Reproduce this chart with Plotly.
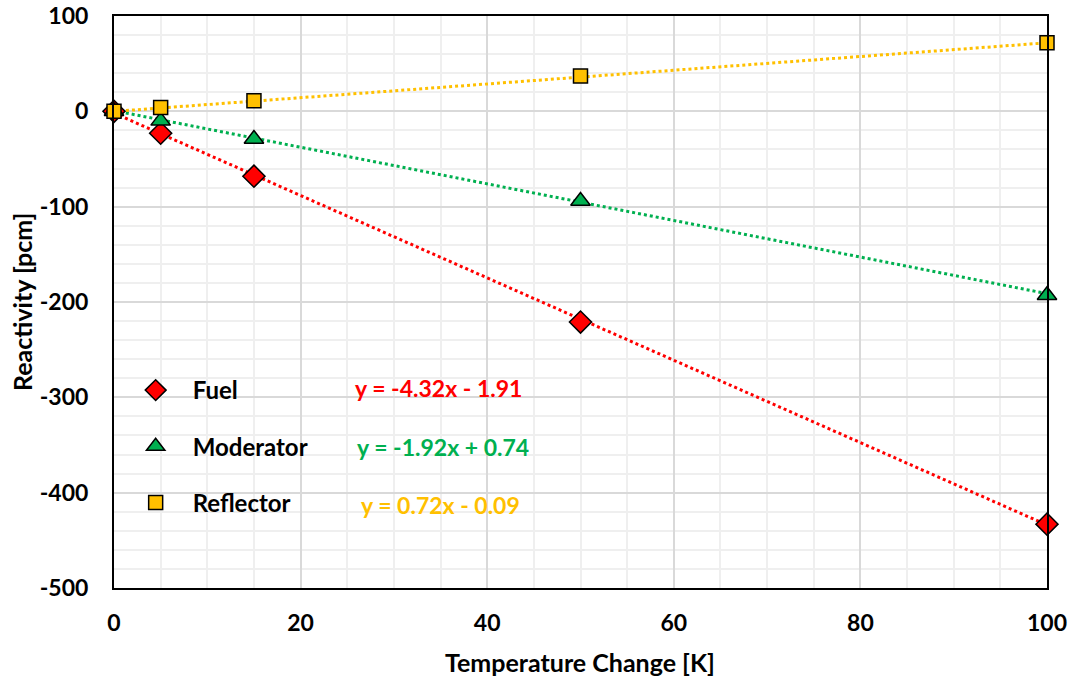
import plotly.graph_objects as go

# Temperature perturbations [K] and reactivity responses [pcm]
temperature = [0, 5, 15, 50, 100]
fuel = [0, -23, -68, -221, -433]
moderator = [0, -10, -29, -94, -193]
reflector = [0, 4, 11, 37, 72]

# Linear fit coefficients (slope, intercept)
fuel_fit = (-4.32, -1.91)
moderator_fit = (-1.92, 0.74)
reflector_fit = (0.72, -0.09)

# Axis ticks (plain hyphen for negatives)
x_ticks = [0, 20, 40, 60, 80, 100]
y_ticks = [100, 0, -100, -200, -300, -400, -500]

names = ["Fuel", "Moderator", "Reflector"]
colors = ["#FF0000", "#00B050", "#FFC000"]
symbols = ["diamond", "triangle-up", "square"]
sizes = [17, 17, 14]
series = [fuel, moderator, reflector]
fits = [fuel_fit, moderator_fit, reflector_fit]

FONT = "Lato"
L, R, T, B = 114, 24, 16, 91
W, H = 1071, 679
PW, PH = W - L - R, H - T - B


def px_x(px):
    return (px - L) / PW


def px_y(py):
    return 1 - (py - T) / PH


fig = go.Figure()

fit_x = [0, 100]
for name, color, fit in zip(names, colors, fits):
    m, b = fit
    fig.add_trace(go.Scatter(
        x=fit_x, y=[m * x + b for x in fit_x], mode="lines",
        line=dict(color=color, width=3, dash="dot"),
        showlegend=False, hoverinfo="skip",
    ))

for name, color, sym, sz, ys in zip(names, colors, symbols, sizes, series):
    fig.add_trace(go.Scatter(
        x=temperature, y=ys, mode="markers", name=name,
        legendgroup=name,
        marker=dict(color=color, symbol=sym, size=sz,
                    line=dict(color="black", width=1.5)),
        cliponaxis=False,
    ))


def fmt_eq(m, b):
    sign = "+" if b >= 0 else "-"
    return f"y = {m:.2f}x {sign} {abs(b):.2f}"


eq_pos = [(438, 388), (443, 447), (440, 505)]
for (m, b), color, (ex, ey) in zip(fits, colors, eq_pos):
    fig.add_annotation(
        x=px_x(ex), y=px_y(ey), xref="paper", yref="paper",
        text=fmt_eq(m, b), showarrow=False,
        font=dict(family=FONT, size=23, color=color, weight="bold"),
        xanchor="center", yanchor="middle",
    )

# Axis titles
fig.add_annotation(
    x=px_x(580), y=px_y(662), xref="paper", yref="paper",
    text="Temperature Change [K]", showarrow=False,
    font=dict(family=FONT, size=25, color="black", weight="bold"),
    xanchor="center", yanchor="middle",
)
fig.add_annotation(
    x=px_x(22), y=px_y(302), xref="paper", yref="paper",
    text="Reactivity [pcm]", showarrow=False, textangle=-90,
    font=dict(family=FONT, size=25, color="black", weight="bold"),
    xanchor="center", yanchor="middle",
)

axis_common = dict(
    showline=True, linecolor="black", linewidth=2, mirror=True,
    ticks="outside", tickcolor="rgba(0,0,0,0)", zeroline=False,
    automargin=False,
    tickfont=dict(family=FONT, size=23, color="black", weight="bold"),
    gridcolor="#D9D9D9", gridwidth=1.5,
)

fig.update_layout(
    width=W, height=H,
    margin=dict(l=L, r=R, t=T, b=B),
    paper_bgcolor="white", plot_bgcolor="white",
    font=dict(family=FONT, color="black"),
    xaxis=dict(
        range=[0, 100], tickmode="array", tickvals=x_ticks,
        ticktext=[str(v) for v in x_ticks], ticklen=13,
        minor=dict(dtick=5, tick0=0, showgrid=True, gridcolor="#EFEFEF",
                   gridwidth=1.5, ticks=""),
        **axis_common,
    ),
    yaxis=dict(
        range=[-500, 100], tickmode="array", tickvals=y_ticks,
        ticktext=[str(v) for v in y_ticks], ticklen=19,
        minor=dict(dtick=20, tick0=0, showgrid=True, gridcolor="#EFEFEF",
                   gridwidth=1.5, ticks=""),
        **axis_common,
    ),
    legend=dict(
        x=0.005, y=px_y(368), xanchor="left", yanchor="top",
        bgcolor="rgba(0,0,0,0)",
        font=dict(family=FONT, size=24, color="black", weight="bold"),
        traceorder="grouped", tracegroupgap=22,
        itemwidth=64,
    ),
)

fig.write_html("out.html")
